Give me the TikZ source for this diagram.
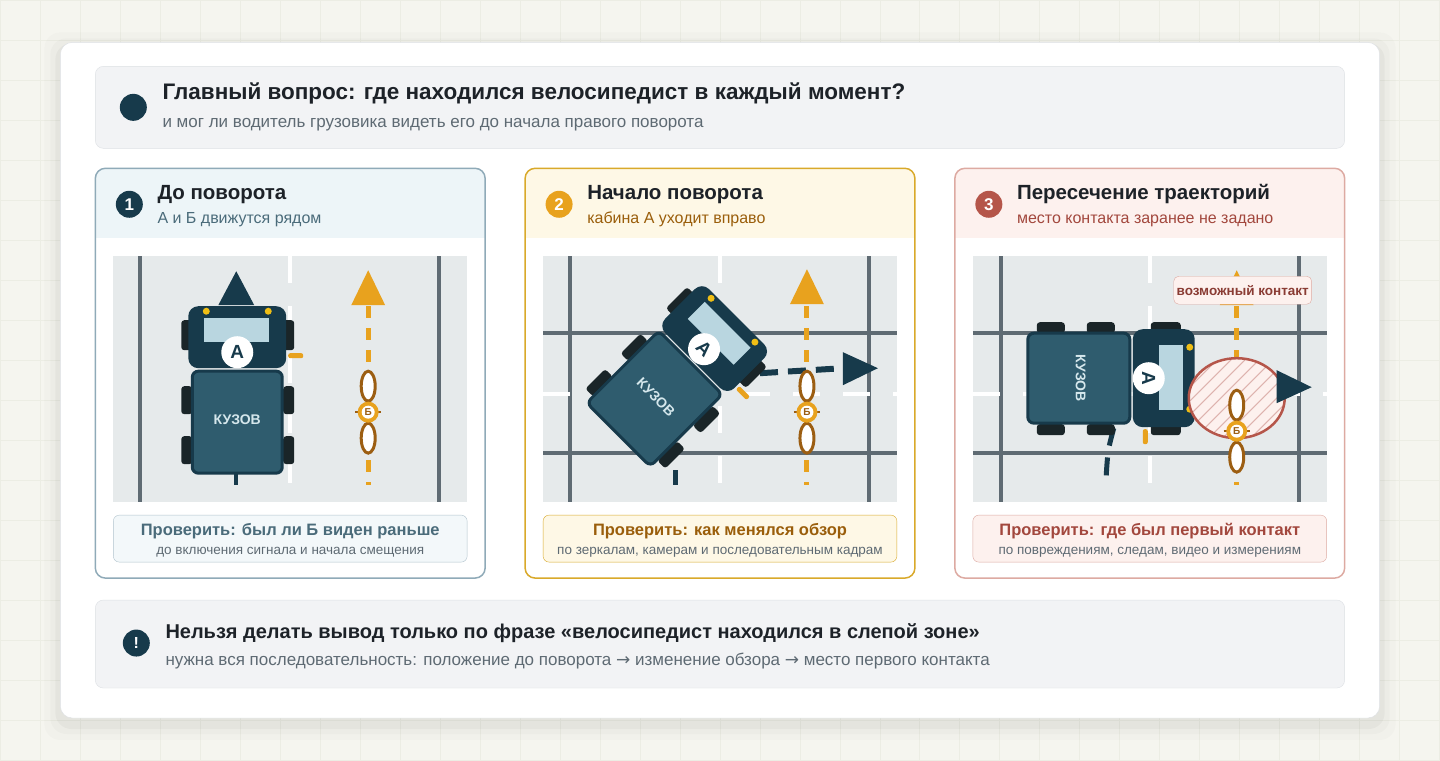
\documentclass[tikz,border=0pt]{standalone}
\usepackage{fontspec}
\setmainfont{Liberation Sans}
\newfontfamily\symfont{DejaVu Sans}
\usetikzlibrary{positioning}
\definecolor{page}{HTML}{F5F5EF}
\definecolor{gridc}{HTML}{ECEDE4}
\definecolor{dark}{HTML}{173A4B}
\definecolor{bodyc}{HTML}{2F5C6E}
\definecolor{wheelc}{HTML}{1A2528}
\definecolor{glass}{HTML}{B9D6E0}
\definecolor{gold}{HTML}{E8A21E}
\definecolor{brownc}{HTML}{9C5E12}
\definecolor{road}{HTML}{E6EAEB}
\definecolor{roadline}{HTML}{5F6B73}
\definecolor{boxgray}{HTML}{F2F3F5}
\definecolor{boxline}{HTML}{DDE0E4}
\definecolor{txt}{HTML}{1D2228}
\definecolor{subtxt}{HTML}{5E6A73}
\definecolor{blueline}{HTML}{8FAAB8}
\definecolor{bluefill}{HTML}{EDF5F8}
\definecolor{bluetxt}{HTML}{4A6B7A}
\definecolor{goldline}{HTML}{D9A92A}
\definecolor{goldfill}{HTML}{FEF8E6}
\definecolor{goldtxt}{HTML}{9A5E0B}
\definecolor{redline}{HTML}{DDAAA2}
\definecolor{redfill}{HTML}{FDF1EE}
\definecolor{redtxt}{HTML}{A2473D}
\definecolor{redc}{HTML}{B5564A}

\newcommand{\fs}[1]{\fontsize{#1}{#1}\selectfont}
\newcommand{\arr}{{\symfont →}}

% truck: junction x, y, angle
\newcommand{\drawtruck}[3]{%
  \begin{scope}[shift={(#1,#2)},rotate=#3]
    \fill[wheelc,rounded corners=3] (-56,-49) rectangle (-45,-19);
    \fill[wheelc,rounded corners=3] (46,-49) rectangle (57,-19);
    \foreach \wy in {17,67} {
      \fill[wheelc,rounded corners=3] (-56,\wy) rectangle (-45,\wy+28);
      \fill[wheelc,rounded corners=3] (46,\wy) rectangle (57,\wy+28);
    }
    \fill[dark,rounded corners=10] (-49,-63) rectangle (49,-1);
    \fill[glass] (-33,-51) rectangle (32,-27);
    \fill[gold!70!yellow] (-31,-58) circle (3.5) (31,-58) circle (3.5);
    \node[abadge,transform shape] at (0,-17) {А};
    \draw[line width=3,draw=dark,fill=bodyc,rounded corners=6] (-45,2) rectangle (45,104);
    \node[text=glass!60!white,font=\bfseries\fs{14},transform shape] at (0,51) {КУЗОВ};
    \fill[gold,rounded corners=2] (51,-16) rectangle (66,-11);
  \end{scope}}

% bike at center x, y
\newcommand{\drawbike}[2]{%
  \draw[brownc,line width=2] (#1-13,#2) -- (#1+13,#2);
  \draw[brownc,line width=3,fill=white] (#1,#2-26) ellipse (7 and 15);
  \draw[brownc,line width=3,fill=white] (#1,#2+26) ellipse (7 and 15);
  \fill[gold] (#1,#2) circle (10.5);
  \node[circle,fill=white,inner sep=0,minimum size=13,text=brownc,font=\bfseries\fs{10}] at (#1,#2) {Б};}

\newcommand{\bikepath}[2]{%
  \draw[gold,line width=5,dash pattern=on 12 off 10] (#1,306) -- (#1,485);
  \fill[gold] (#1,#2) -- (#1-17,#2+35) -- (#1+17,#2+35) -- cycle;}

\tikzset{
  abadge/.style={circle,fill=white,inner sep=0,minimum size=32,text=dark,font=\bfseries\fs{19}},
  numc/.style={circle,inner sep=0,minimum size=27,text=white,font=\bfseries\fs{17}},
  ttl/.style={anchor=base west,inner sep=0,text=txt,font=\bfseries\fs{20.5}},
  sub/.style={anchor=base west,inner sep=0,font=\fs{16}},
  note/.style={anchor=base,inner sep=0,font=\bfseries\fs{16.5}},
  notesub/.style={anchor=base,inner sep=0,text=subtxt,font=\fs{13.5}},
  gline/.style={roadline,line width=4},
  wline/.style={white,line width=4,dash pattern=on 27 off 23},
}

\begin{document}
\begin{tikzpicture}[x=1pt,y=-1pt]
  \fill[page] (0,0) rectangle (1440,760);
  \foreach \g in {0,40,...,1440} \draw[gridc,line width=0.8] (\g,0) -- (\g,760);
  \foreach \g in {0,40,...,760} \draw[gridc,line width=0.8] (0,\g) -- (1440,\g);
  \useasboundingbox (0,0) rectangle (1440,760);

  % card
  \foreach \s/\o in {16/0.015,10/0.02,5/0.03}
    \fill[black,opacity=\o,rounded corners=16] (60-\s,48-\s) rectangle (1380+\s,724+\s);
  \fill[white,draw=boxline,rounded corners=12] (60,42) rectangle (1380,718);

  % header
  \fill[boxgray,draw=boxline,rounded corners=8] (95,66) rectangle (1345,148);
  \node[numc,fill=dark] (hdot) at (133,107) {};
  \node[ttl,font=\bfseries\fs{22.5}] (htitle) at (162,99) {Главный вопрос: где находился велосипедист в каждый момент?};
  \node[sub,text=subtxt,font=\fs{17}] (hsub) at (162,127) {и мог ли водитель грузовика видеть его до начала правого поворота};

  % panels
  \foreach \px/\ln/\fl in {95/blueline/bluefill,525/goldline/goldfill,955/redline/redfill} {
    \begin{scope}
      \clip[rounded corners=10] (\px,168) rectangle (\px+390,578);
      \fill[white] (\px,168) rectangle (\px+390,578);
      \fill[\fl] (\px,168) rectangle (\px+390,238);
    \end{scope}
    \draw[\ln,line width=1.5,rounded corners=10] (\px,168) rectangle (\px+390,578);
    \fill[road] (\px+18,256) rectangle (\px+372,502);
  }
  \node[numc,fill=dark] (n1) at (129,204) {1};
  \node[ttl] (t1) at (157,199) {До поворота};
  \node[sub,text=bluetxt] (s1) at (157,223) {А и Б движутся рядом};
  \node[numc,fill=gold] (n2) at (559,204) {2};
  \node[ttl] (t2) at (587,199) {Начало поворота};
  \node[sub,text=goldtxt] (s2) at (587,223) {кабина А уходит вправо};
  \node[numc,fill=redc] (n3) at (989,204) {3};
  \node[ttl] (t3) at (1017,199) {Пересечение траекторий};
  \node[sub,text=redtxt] (s3) at (1017,223) {место контакта заранее не задано};

  % scene 1
  \draw[gline] (140,256) -- (140,502) (439,256) -- (439,502);
  \draw[wline] (290,256) -- (290,502);
  \bikepath{368}{270}
  \fill[dark] (236,271) -- (218,305) -- (254,305) -- cycle;
  \draw[dark,line width=4] (236,470) -- (236,485);
  \drawtruck{237}{369}{0}
  \drawbike{368}{412}

  % scene 2
  \draw[gline] (570,256) -- (570,502) (869,256) -- (869,502) (543,333) -- (897,333) (543,453) -- (897,453);
  \draw[wline] (720,256) -- (720,502);
  \draw[wline] (543,394) -- (897,394);
  \bikepath{807}{269}
  \draw[dark,line width=6,dash pattern=on 18 off 10] (760,373) -- (843,368);
  \fill[dark] (878,368) -- (843,352) -- (843,385) -- cycle;
  \draw[dark,line width=5] (675,470) -- (675,485);
  \drawtruck{692}{361}{-45}
  \drawbike{807}{412}

  % scene 3
  \draw[gline] (1001,256) -- (1001,502) (1299,256) -- (1299,502) (973,333) -- (1327,333) (973,453) -- (1327,453);
  \draw[wline] (1150,256) -- (1150,502);
  \draw[wline] (973,394) -- (1327,394);
  \bikepath{1237}{270}
  \draw[dark,line width=5,dash pattern=on 18 off 12] (1114,428) .. controls (1108,450) .. (1106,482);
  \drawtruck{1132}{378}{-90}
  \begin{scope}
    \clip (1237,398) ellipse (48 and 40);
    \fill[redfill] (1237,398) ellipse (48 and 40);
    \foreach \h in {-150,-136,...,60}
      \draw[redc!45,line width=1] (1237+\h,448) -- (1237+\h+100,348);
  \end{scope}
  \draw[redc,line width=2.5] (1237,398) ellipse (48 and 40);
  \fill[dark] (1312,387) -- (1277,370) -- (1277,403) -- cycle;
  \drawbike{1237}{431}
  \node[draw=redline,fill=redfill,rounded corners=5,minimum width=138,minimum height=28,inner sep=0,text=redtxt!85!black,font=\bfseries\fs{13.5}] (contact) at (1243,290) {возможный контакт};

  % notes
  \fill[bluefill!70!white,draw=blueline!70,rounded corners=6] (113,515) rectangle (467,562);
  \node[note,text=bluetxt] (c1) at (290,535) {Проверить: был ли Б виден раньше};
  \node[notesub] (d1) at (290,554) {до включения сигнала и начала смещения};
  \fill[goldfill,draw=goldline,rounded corners=6] (543,515) rectangle (897,562);
  \node[note,text=goldtxt] (c2) at (720,535) {Проверить: как менялся обзор};
  \node[notesub] (d2) at (720,554) {по зеркалам, камерам и последовательным кадрам};
  \fill[redfill,draw=redline,rounded corners=6] (973,515) rectangle (1327,562);
  \node[note,text=redtxt] (c3) at (1150,535) {Проверить: где был первый контакт};
  \node[notesub] (d3) at (1150,554) {по повреждениям, следам, видео и измерениям};

  % footer
  \fill[boxgray,draw=boxline,rounded corners=8] (95,600) rectangle (1345,688);
  \node[numc,fill=dark,font=\bfseries\fs{16}] (fdot) at (136,643) {!};
  \node[ttl,font=\bfseries\fs{20}] (ftitle) at (165,638) {Нельзя делать вывод только по фразе «велосипедист находился в слепой зоне»};
  \node[sub,text=subtxt,font=\fs{17}] (fsub) at (165,665) {нужна вся последовательность: положение до поворота \arr{} изменение обзора \arr{} место первого контакта};
\end{tikzpicture}
\end{document}
